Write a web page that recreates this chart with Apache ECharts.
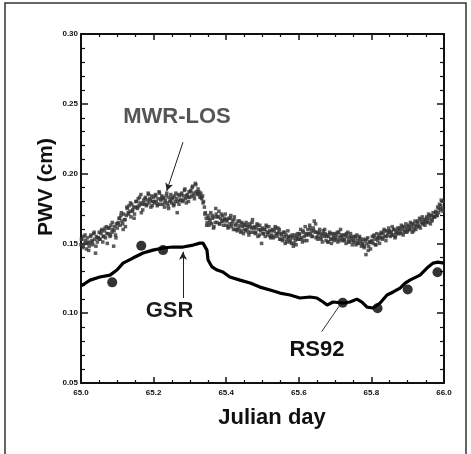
<!DOCTYPE html>
<html>
<head>
<meta charset="utf-8">
<script src="https://cdn.jsdelivr.net/npm/echarts@6/dist/echarts.min.js"></script>
<style>html,body{margin:0;padding:0;background:#fff}#c{width:471px;height:454px}</style>
</head>
<body>
<div id="c"></div>
<script>
// MWR-LOS PWV (cm), first sampling pass: from day 65.0 every 0.0025 day
var mwrStart = 65.0;
var mwrStep = 0.0025;
var mwrPwv = [
.149,.153,.147,.155,.150,.152,.146,.154,.151,.148,
.150,.156,.152,.149,.157,.153,.143,.155,.151,.154,
.158,.153,.157,.160,.151,.155,.159,.154,.162,.150,
.157,.161,.155,.163,.158,.160,.148,.162,.156,.164,
.161,.165,.168,.163,.170,.166,.164,.171,.167,.162,
.170,.175,.172,.177,.173,.169,.178,.174,.176,.171,
.176,.180,.175,.182,.177,.179,.185,.178,.174,.181,
.178,.183,.177,.181,.186,.179,.182,.176,.184,.180,
.183,.179,.185,.180,.177,.182,.187,.178,.181,.184,
.178,.182,.176,.181,.184,.179,.177,.183,.180,.185,
.179,.183,.177,.184,.180,.182,.172,.185,.178,.181,
.181,.186,.180,.184,.188,.182,.179,.185,.183,.187,
.183,.188,.184,.191,.186,.182,.193,.187,.185,.189,
.187,.183,.186,.182,.184,.180,.176,.172,.168,.165,
.170,.163,.167,.172,.164,.168,.161,.169,.165,.171,
.165,.169,.173,.164,.168,.166,.170,.163,.167,.171,
.163,.167,.161,.168,.164,.170,.162,.166,.160,.169,
.160,.164,.159,.166,.161,.163,.158,.165,.162,.157,
.163,.159,.165,.160,.162,.156,.164,.158,.161,.167,
.158,.162,.157,.161,.164,.155,.160,.163,.159,.150,
.161,.157,.160,.155,.163,.158,.156,.162,.159,.154,
.156,.160,.154,.159,.162,.157,.155,.161,.158,.153,
.153,.157,.152,.158,.155,.150,.156,.153,.159,.154,
.151,.155,.150,.154,.148,.156,.152,.149,.155,.153,
.153,.157,.160,.154,.151,.158,.155,.162,.156,.152,
.160,.156,.163,.157,.159,.155,.161,.166,.158,.154,
.158,.153,.157,.160,.154,.156,.151,.159,.155,.157,
.152,.156,.151,.155,.158,.153,.150,.157,.154,.152,
.157,.153,.156,.151,.158,.154,.160,.155,.152,.156,
.152,.156,.150,.155,.158,.153,.151,.157,.154,.149,
.155,.151,.154,.149,.156,.152,.150,.155,.153,.148,
.149,.153,.147,.152,.142,.150,.154,.148,.151,.146,
.151,.155,.150,.156,.153,.149,.157,.152,.154,.150,
.154,.158,.153,.157,.160,.155,.152,.159,.156,.161,
.159,.155,.158,.162,.156,.160,.154,.158,.157,.161,
.157,.161,.158,.163,.160,.156,.162,.159,.164,.158,
.159,.163,.160,.165,.162,.158,.164,.161,.166,.160,
.162,.166,.163,.168,.161,.165,.169,.164,.167,.163,
.165,.169,.166,.171,.168,.164,.170,.167,.172,.169,
.169,.173,.170,.176,.172,.178,.174,.181,.175,.173
];
// MWR-LOS PWV (cm), second pass: from day 65.00125 every 0.005 day
var mwr2Start = 65.00125;
var mwr2Step = 0.005;
var mwr2Pwv = [
.153,.148,.156,.150,.145, .155,.151,.158,.148,.154,
.153,.159,.155,.161,.157, .161,.156,.165,.159,.154,
.164,.168,.172,.160,.167, .176,.171,.179,.173,.168,
.180,.176,.183,.172,.179, .182,.178,.185,.181,.177,
.180,.184,.178,.186,.182, .183,.179,.186,.175,.181,
.182,.178,.186,.180,.184, .185,.181,.189,.184,.180,
.187,.190,.184,.192,.186, .185,.183,.179,.171,.163,
.168,.165,.170,.162,.175, .169,.164,.171,.166,.168,
.166,.162,.168,.164,.167, .163,.160,.166,.159,.164,
.160,.163,.158,.162,.165, .161,.158,.163,.156,.160,
.157,.160,.162,.158,.155, .159,.155,.161,.157,.160,
.156,.153,.158,.151,.155, .152,.156,.150,.154,.157,
.156,.153,.159,.152,.157, .157,.161,.155,.159,.164,
.155,.158,.153,.157,.160, .155,.151,.157,.153,.156,
.154,.158,.152,.156,.153, .153,.157,.151,.155,.152,
.152,.155,.150,.154,.151, .150,.148,.153,.145,.151,
.152,.155,.149,.154,.156, .157,.154,.159,.155,.158,
.158,.156,.160,.155,.159, .160,.157,.162,.158,.161,
.162,.160,.164,.159,.163, .165,.162,.167,.164,.166,
.168,.165,.170,.166,.169, .172,.170,.175,.177,.180
];

// GSR retrieval
var gsrDay = [65.000,65.025,65.052,65.080,65.099,65.116,65.143,65.171,65.198,65.226,65.253,65.281,65.309,65.328,65.336,65.347,65.350,65.361,65.375,65.391,65.410,65.438,65.466,65.493,65.521,65.548,65.576,65.603,65.631,65.650,65.667,65.678,65.694,65.722,65.741,65.760,65.774,65.788,65.804,65.824,65.843,65.860,65.879,65.893,65.906,65.934,65.953,65.970,65.983,66.000];
var gsrPwv = [0.1195,0.1237,0.1259,0.1273,0.1309,0.1359,0.1395,0.1431,0.1452,0.1467,0.1474,0.1474,0.1488,0.1502,0.1502,0.1452,0.1381,0.1331,0.1309,0.1295,0.1259,0.1237,0.1216,0.1187,0.1166,0.1144,0.1130,0.1109,0.1116,0.1109,0.1080,0.1058,0.1080,0.1073,0.1080,0.1101,0.1080,0.1044,0.1037,0.1073,0.1130,0.1152,0.1180,0.1216,0.1237,0.1273,0.1323,0.1359,0.1366,0.1359];

// RS92 radiosondes
var rsDay = [65.086,65.166,65.226,65.721,65.817,65.900,65.982];
var rsPwv = [0.1221,0.1483,0.1452,0.1075,0.1035,0.1170,0.1293];

var xMin = 65.0, xMax = 66.0, xInterval = 0.2;
var yMin = 0.05, yMax = 0.30, yInterval = 0.05;

var FONT = '"Liberation Sans", Arial, sans-serif';

var mwrData = mwrPwv.map(function (v, i) { return [mwrStart + i * mwrStep, v]; })
  .concat(mwr2Pwv.map(function (v, i) { return [mwr2Start + i * mwr2Step, v]; }));
var gsrData = gsrDay.map(function (d, i) { return [d, gsrPwv[i]]; });
var rsData = rsDay.map(function (d, i) { return [d, rsPwv[i]]; });

var chart = echarts.init(document.getElementById('c'), null, { renderer: 'canvas' });

function xAxisCfg(pos, showLabel) {
  return {
    type: 'value', position: pos, min: xMin, max: xMax, interval: xInterval,
    axisLine: { show: true, onZero: false, lineStyle: { color: '#111', width: 2 } },
    axisTick: { show: true, inside: true, length: 6, lineStyle: { color: '#111', width: 1.5 } },
    minorTick: { show: true, splitNumber: 4, length: 3, lineStyle: { color: '#111', width: 1.2 } },
    splitLine: { show: false },
    axisLabel: { show: showLabel, margin: 6, fontSize: 8, fontWeight: 'bold', color: '#111', fontFamily: FONT,
      formatter: function (v) { return v.toFixed(1); } }
  };
}
function yAxisCfg(pos, showLabel) {
  return {
    type: 'value', position: pos, min: yMin, max: yMax, interval: yInterval,
    axisLine: { show: true, onZero: false, lineStyle: { color: '#111', width: 2 } },
    axisTick: { show: true, inside: true, length: 7, lineStyle: { color: '#111', width: 1.5 } },
    minorTick: { show: true, splitNumber: 5, length: 4, lineStyle: { color: '#111', width: 1.2 } },
    splitLine: { show: false },
    axisLabel: { show: showLabel, margin: 3, fontSize: 8, fontWeight: 'bold', color: '#111', fontFamily: FONT,
      formatter: function (v) { return v.toFixed(2); } }
  };
}

chart.setOption({
  backgroundColor: '#ffffff',
  animation: false,
  grid: { left: 81, right: 27, top: 34, bottom: 71 },
  xAxis: [xAxisCfg('bottom', true), xAxisCfg('top', false)],
  yAxis: [yAxisCfg('left', true), yAxisCfg('right', false)],
  series: [
    {
      name: 'MWR-LOS', type: 'scatter', data: mwrData,
      symbol: 'rect', symbolSize: 3.5, large: false,
      itemStyle: { color: '#333333' }, z: 2,
      markLine: {
        silent: true, symbol: ['none', 'arrow'], symbolSize: [6, 8],
        lineStyle: { color: '#222', width: 1, type: 'solid' }, label: { show: false },
        data: [
          [{ coord: [65.281, 0.2225] }, { coord: [65.236, 0.1875] }],
          [{ coord: [65.281, 0.1109] }, { coord: [65.281, 0.1440] }]
        ]
      }
    },
    {
      name: 'GSR', type: 'line', data: gsrData, showSymbol: false, symbol: 'none',
      lineStyle: { color: '#000', width: 3.2 }, z: 3,
      markLine: {
        silent: true, symbol: ['none', 'none'],
        lineStyle: { color: '#333', width: 1, type: 'solid' }, label: { show: false },
        data: [
          [{ coord: [65.663, 0.0868] }, { coord: [65.711, 0.1050] }]
        ]
      }
    },
    {
      name: 'RS92', type: 'scatter', data: rsData,
      symbol: 'circle', symbolSize: 10,
      itemStyle: { color: '#000' }, z: 4
    }
  ],
  graphic: [
    { type: 'rect', silent: true, z: -1, shape: { x: 5, y: 3, width: 461, height: 470 },
      style: { fill: 'none', stroke: '#333', lineWidth: 1.5 } },
    { type: 'text', x: 177, y: 117, silent: true,
      style: { text: 'MWR-LOS', font: 'bold 22px ' + FONT, fill: '#555', align: 'center', verticalAlign: 'middle' } },
    { type: 'text', x: 169.5, y: 311, silent: true,
      style: { text: 'GSR', font: 'bold 22px ' + FONT, fill: '#1a1a1a', align: 'center', verticalAlign: 'middle' } },
    { type: 'text', x: 317, y: 350, silent: true,
      style: { text: 'RS92', font: 'bold 22px ' + FONT, fill: '#111', align: 'center', verticalAlign: 'middle' } },
    { type: 'text', x: 272, y: 418, silent: true,
      style: { text: 'Julian day', font: 'bold 22px ' + FONT, fill: '#111', align: 'center', verticalAlign: 'middle' } },
    { type: 'text', x: 46, y: 187, rotation: Math.PI / 2, silent: true,
      style: { text: 'PWV (cm)', font: 'bold 21px ' + FONT, fill: '#111', align: 'center', verticalAlign: 'middle' } }
  ]
});
</script>
</body>
</html>
